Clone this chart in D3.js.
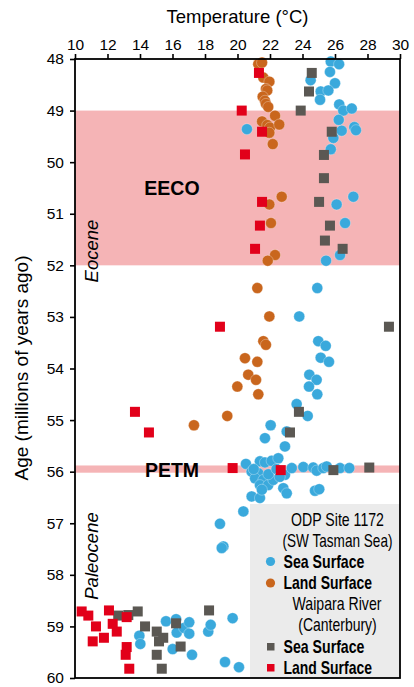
<!DOCTYPE html>
<html>
<head>
<meta charset="utf-8">
<script src="https://cdn.jsdelivr.net/npm/d3@7"></script>
<style>
  html, body { margin: 0; padding: 0; background: #fff; }
  svg { display: block; font-family: "Liberation Sans", Arial, Helvetica, sans-serif; }
</style>
</head>
<body>
<div id="chart"></div>
<script>
// Temperature (°C), age (Ma)
const odpSea = [
  [25.74, 48.05], [26.25, 48.10], [25.69, 48.25], [24.50, 48.41], [26.00, 48.47],
  [25.12, 48.63], [25.59, 48.61], [25.08, 48.79], [26.26, 48.88], [26.51, 49.00],
  [27.03, 48.96], [26.23, 49.18], [27.19, 49.32], [27.29, 49.38], [26.41, 49.39],
  [25.90, 49.53], [25.74, 49.75], [20.58, 49.36], [27.13, 50.67], [26.10, 50.82],
  [26.62, 51.18], [26.31, 51.80], [25.45, 51.91],
  [24.91, 52.44], [23.80, 52.99], [24.97, 53.47], [25.43, 53.56], [25.12, 53.79],
  [25.63, 53.87], [24.42, 54.12], [24.87, 54.22], [24.40, 54.35], [24.91, 54.50],
  [23.64, 54.69], [24.32, 54.92], [22.04, 55.10], [23.03, 55.22], [21.69, 55.35],
  [22.92, 55.51],
  [20.52, 55.85], [21.38, 55.80], [21.69, 55.82], [22.10, 55.79], [22.51, 55.74],
  [20.87, 56.00], [21.28, 56.03], [21.08, 56.13], [21.59, 56.16], [21.38, 56.26],
  [21.89, 56.26], [22.20, 56.16], [22.92, 56.06], [23.34, 55.93], [22.82, 56.32],
  [23.03, 56.42], [24.05, 55.91], [24.66, 55.92], [24.87, 55.98], [25.28, 55.93],
  [25.49, 55.90], [26.31, 55.93], [26.88, 55.93], [24.77, 56.37], [25.03, 56.34],
  [20.87, 56.48], [21.38, 56.51], [21.00, 55.95], [21.90, 56.05], [22.40, 55.95],
  [21.50, 56.35], [22.60, 56.10],
  [20.36, 56.77], [18.92, 57.01], [19.13, 57.45], [19.03, 57.48],
  [13.96, 59.18], [14.02, 59.34], [15.60, 58.90], [16.22, 58.86], [16.26, 59.12],
  [16.71, 59.03], [17.03, 58.92], [17.03, 59.14], [16.01, 59.44], [17.20, 59.55],
  [18.20, 59.10], [18.35, 58.97], [19.70, 58.84], [19.23, 59.69], [20.09, 59.79]
];

const odpLand = [
  [21.28, 48.10], [21.51, 48.07], [21.59, 48.36], [21.96, 48.44], [21.75, 48.58],
  [21.83, 48.61], [21.55, 48.73], [21.69, 48.81], [21.75, 48.87], [21.89, 48.93],
  [22.31, 49.10], [21.51, 49.21], [21.83, 49.28], [22.00, 49.33], [22.57, 49.27],
  [21.96, 49.43], [22.17, 49.65], [22.72, 50.67], [21.96, 50.82], [22.06, 51.18],
  [22.31, 51.80], [21.86, 51.91], [21.22, 52.44], [21.96, 52.99], [21.59, 53.47],
  [21.75, 53.54], [20.46, 53.80], [21.22, 53.87], [20.66, 54.12], [21.14, 54.22],
  [19.99, 54.35], [21.28, 54.50], [19.37, 54.92], [17.32, 55.10]
];

const waiparaSea = [
  [24.57, 48.27], [24.40, 48.63], [23.89, 49.00], [25.80, 49.41], [25.32, 49.86],
  [25.32, 50.31], [25.02, 50.77], [25.69, 51.23], [25.38, 51.52], [26.47, 51.68],
  [29.32, 53.19], [23.78, 54.84], [23.23, 55.24], [25.90, 55.97], [28.11, 55.92],
  [12.66, 58.79], [13.28, 58.78], [13.86, 58.71], [14.31, 59.00], [15.03, 59.10],
  [15.43, 59.22], [15.17, 59.29], [16.22, 58.94], [16.50, 59.39], [15.03, 59.55],
  [15.34, 59.82], [18.25, 58.69]
];

const waiparaLand = [
  [21.32, 48.27], [20.26, 49.00], [21.51, 49.41], [20.46, 49.85], [21.51, 50.77],
  [21.38, 51.23], [21.08, 51.68], [18.92, 53.19], [13.69, 54.84], [14.55, 55.24],
  [19.70, 55.93], [22.66, 55.97],
  [10.41, 58.71], [10.82, 58.79], [12.09, 58.69], [13.18, 58.82], [11.29, 59.00],
  [12.32, 58.95], [12.57, 59.10], [11.09, 59.29], [11.78, 59.22], [13.18, 59.40],
  [13.12, 59.55], [13.34, 59.82]
];

const tempTicks = [10, 12, 14, 16, 18, 20, 22, 24, 26, 28, 30];
const ageTicks = [48, 49, 50, 51, 52, 53, 54, 55, 56, 57, 58, 59, 60];
const eecoBand = [49, 52];
const petmBand = [55.88, 56.02];

const COLORS = {
  sea: '#3aa9dc',
  land: '#c9661d',
  wSea: '#5b5853',
  wLand: '#e2001a',
  band: '#f5b4b6',
  legendBg: '#ebebeb'
};

const width = 414, height = 687;
const margin = { top: 59, right: 14, bottom: 9, left: 75 };

const svg = d3.select('#chart').append('svg')
  .attr('width', width)
  .attr('height', height);

const x = d3.scaleLinear().domain([10, 30]).range([margin.left, width - margin.right]);
const y = d3.scaleLinear().domain([48, 60]).range([margin.top, height - margin.bottom]);

// Highlight bands
[eecoBand, petmBand].forEach(b => {
  svg.append('rect')
    .attr('x', x(10))
    .attr('y', y(b[0]))
    .attr('width', x(30) - x(10))
    .attr('height', y(b[1]) - y(b[0]))
    .attr('fill', COLORS.band);
});

// Band labels
svg.append('text')
  .attr('x', 172).attr('y', 194.5)
  .attr('text-anchor', 'middle')
  .attr('font-size', 19.5).attr('font-weight', 'bold')
  .text('EECO');

svg.append('text')
  .attr('x', 172).attr('y', 476.5)
  .attr('text-anchor', 'middle')
  .attr('font-size', 19.5).attr('font-weight', 'bold')
  .text('PETM');

// Epoch labels
svg.append('text')
  .attr('transform', 'translate(98,251) rotate(-90)')
  .attr('text-anchor', 'middle')
  .attr('font-size', 18.5).attr('font-style', 'italic')
  .text('Eocene');

svg.append('text')
  .attr('transform', 'translate(98,556) rotate(-90)')
  .attr('text-anchor', 'middle')
  .attr('font-size', 18.5).attr('font-style', 'italic')
  .text('Paleocene');

// Points
const pts = svg.append('g');

pts.selectAll('circle.sea')
  .data(odpSea).enter().append('circle')
  .attr('class', 'sea')
  .attr('cx', d => x(d[0])).attr('cy', d => y(d[1]))
  .attr('r', 5.5)
  .attr('fill', COLORS.sea)
  .attr('stroke', '#fff').attr('stroke-opacity', 0.5).attr('stroke-width', 0.6);

pts.selectAll('circle.land')
  .data(odpLand).enter().append('circle')
  .attr('class', 'land')
  .attr('cx', d => x(d[0])).attr('cy', d => y(d[1]))
  .attr('r', 5.5)
  .attr('fill', COLORS.land)
  .attr('stroke', '#fff').attr('stroke-opacity', 0.5).attr('stroke-width', 0.6);

const sq = 10;
pts.selectAll('rect.wsea')
  .data(waiparaSea).enter().append('rect')
  .attr('class', 'wsea')
  .attr('x', d => x(d[0]) - sq / 2).attr('y', d => y(d[1]) - sq / 2)
  .attr('width', sq).attr('height', sq)
  .attr('fill', COLORS.wSea);

pts.selectAll('rect.wland')
  .data(waiparaLand).enter().append('rect')
  .attr('class', 'wland')
  .attr('x', d => x(d[0]) - sq / 2).attr('y', d => y(d[1]) - sq / 2)
  .attr('width', sq).attr('height', sq)
  .attr('fill', COLORS.wLand);

// Legend - condensed type, squeezed horizontally to the widths of the original
const lg = svg.append('g').attr('class', 'legend');
lg.append('rect')
  .attr('x', 250).attr('y', 504)
  .attr('width', x(30) - 250).attr('height', y(60) - 504)
  .attr('fill', COLORS.legendBg);

const legendRows = [
  { t: 'ODP Site 1172', cx: 337.5, y: 520, w: 93 },
  { t: '(SW Tasman Sea)', cx: 337.5, y: 540.5, w: 110 },
  { t: 'Sea Surface', y: 561.5, sym: 'circle', c: COLORS.sea, w: 81 },
  { t: 'Land Surface', y: 583, sym: 'circle', c: COLORS.land, w: 88.5 },
  { t: 'Waipara River', cx: 337, y: 604, w: 89 },
  { t: '(Canterbury)', cx: 337.5, y: 624.5, w: 78.5 },
  { t: 'Sea Surface', y: 646.5, sym: 'square', c: COLORS.wSea, w: 81 },
  { t: 'Land Surface', y: 667.5, sym: 'square', c: COLORS.wLand, w: 88.5 }
];

legendRows.forEach(r => {
  const txt = lg.append('text')
    .attr('dy', '0.35em')
    .attr('font-size', 17.5)
    .attr('font-weight', r.sym ? 'bold' : 'normal')
    .attr('text-anchor', r.sym ? 'start' : 'middle')
    .text(r.t);
  const natural = txt.node().getComputedTextLength() || r.w;
  const sx = r.w / natural;
  const tx = r.sym ? 283.5 : r.cx;
  txt.attr('transform', `translate(${tx},${r.y}) scale(${sx},1)`);
  if (r.sym === 'circle') {
    lg.append('circle').attr('cx', 270.5).attr('cy', r.y).attr('r', 4.6).attr('fill', r.c);
  } else if (r.sym === 'square') {
    lg.append('rect').attr('x', 267).attr('y', r.y - 3.5).attr('width', 7.5).attr('height', 7.5).attr('fill', r.c);
  }
});

// Axes
const xAxis = svg.append('g')
  .attr('transform', `translate(0,${margin.top})`)
  .call(d3.axisTop(x).tickValues(tempTicks).tickSize(5).tickPadding(4).tickSizeOuter(0));

const yAxis = svg.append('g')
  .attr('transform', `translate(${margin.left},0)`)
  .call(d3.axisLeft(y).tickValues(ageTicks).tickSize(5).tickPadding(6).tickSizeOuter(0));

[xAxis, yAxis].forEach(a => {
  a.selectAll('text').attr('font-size', 15.5).attr('fill', '#000')
    .style('font-family', '"Liberation Sans", Arial, sans-serif');
  a.selectAll('line').attr('stroke', '#000').attr('stroke-width', 1.6);
  a.select('.domain').remove();
});

// Frame
svg.append('rect')
  .attr('x', x(10)).attr('y', y(48))
  .attr('width', x(30) - x(10)).attr('height', y(60) - y(48))
  .attr('fill', 'none').attr('stroke', '#000').attr('stroke-width', 1.8);

// Axis titles
svg.append('text')
  .attr('x', 237.5).attr('y', 23)
  .attr('text-anchor', 'middle')
  .attr('font-size', 18.5)
  .text('Temperature (°C)');

svg.append('text')
  .attr('transform', 'translate(28,368) rotate(-90)')
  .attr('text-anchor', 'middle')
  .attr('font-size', 19)
  .text('Age (millions of years ago)');
</script>
</body>
</html>
